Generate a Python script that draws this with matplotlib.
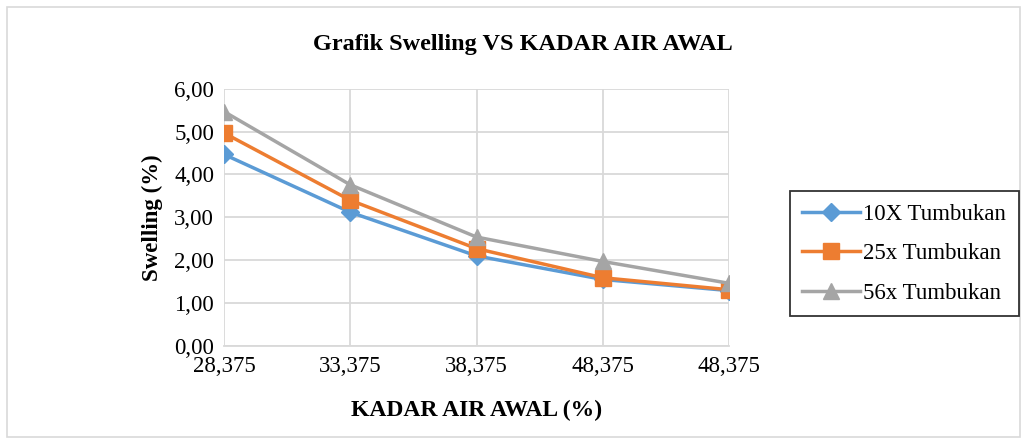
import matplotlib.pyplot as plt
from matplotlib.patches import Rectangle

# data
kadar_air = ['28,375', '33,375', '38,375', '48,375', '48,375']
swell_10x = [4.47, 3.12, 2.10, 1.55, 1.29]
swell_25x = [4.97, 3.40, 2.27, 1.59, 1.31]
swell_56x = [5.47, 3.76, 2.54, 1.97, 1.46]

plt.rcParams['font.family'] = ['Liberation Serif', 'DejaVu Serif']

fig = plt.figure(figsize=(10.27, 4.44), dpi=100)
ax = fig.add_axes([0.218, 0.221, 0.492, 0.579])

# outer chart border
fig.patches.append(Rectangle((0.007, 0.016), 0.986, 0.968, transform=fig.transFigure,
                             fill=False, edgecolor='#d9d9d9', lw=1.2))

x = range(len(kadar_air))
ax.plot(x, swell_10x, color='#5b9bd5', lw=2.5, marker='D', ms=9, label='10X Tumbukan')
ax.plot(x, swell_25x, color='#ed7d31', lw=2.5, marker='s', ms=11, label='25x Tumbukan')
ax.plot(x, swell_56x, color='#a5a5a5', lw=2.5, marker='^', ms=12, label='56x Tumbukan')

ax.set_xlim(0, len(kadar_air) - 1)
ax.set_ylim(0, 6)
ax.set_xticks(list(x))
ax.set_xticklabels(kadar_air)
yvals = [0, 1, 2, 3, 4, 5, 6]
ax.set_yticks(yvals)
ax.set_yticklabels([('%.2f' % v).replace('.', ',') for v in yvals])

ax.grid(True, color='#d9d9d9', lw=1.3)
ax.set_axisbelow(True)
for s in ['top', 'right', 'left']:
    ax.spines[s].set_visible(False)
ax.spines['bottom'].set_color('#d9d9d9')
ax.spines['bottom'].set_linewidth(1.3)
ax.tick_params(length=0, labelsize=16.5, colors='black', pad=7)

ax.set_xlabel('KADAR AIR AWAL (%)', fontsize=17, fontweight='bold', labelpad=17)
ax.set_ylabel('Swelling (%)', fontsize=16.5, fontweight='bold', labelpad=8)
fig.text(0.509, 0.9, 'Grafik Swelling VS KADAR AIR AWAL', ha='center', va='center',
         fontsize=17.5, fontweight='bold')

leg = fig.legend(loc='center left', bbox_to_anchor=(0.769, 0.428), fontsize=16.5,
                 frameon=True, fancybox=False, edgecolor='black', handlelength=2.5,
                 labelspacing=0.8, borderpad=0.55, handletextpad=0.15, borderaxespad=0)
leg.get_frame().set_linewidth(1.3)

fig.savefig('out.png', dpi=100)
